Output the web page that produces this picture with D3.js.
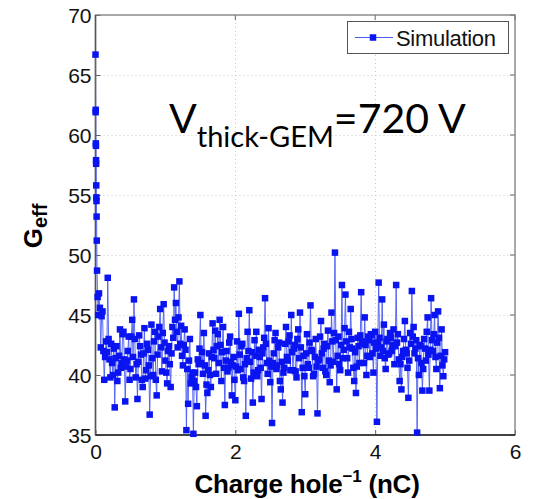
<!DOCTYPE html>
<html><head><meta charset="utf-8">
<script src="https://cdn.jsdelivr.net/npm/d3@7"></script>
<style>body{margin:0;background:#fff}svg{display:block}</style>
</head><body>
<script>
const charge = [0.000,0.002,0.003,0.005,0.006,0.008,0.009,0.011,0.012,0.014,0.016,0.018,0.022,0.030,0.038,
0.05,0.0625,0.075,0.0875,0.1,0.1125,0.125,0.1375,0.15,0.1625,0.175,0.1875,0.2,0.2125,0.225,0.2375,0.25,0.2625,0.275,0.2875,
0.3,0.3125,0.325,0.3375,0.35,0.3625,0.375,0.3875,0.4,0.4125,0.425,0.4375,0.45,0.4625,0.475,0.4875,0.5,0.5125,0.525,0.5375,
0.55,0.5625,0.575,0.5875,0.6,0.6125,0.625,0.6375,0.65,0.6625,0.675,0.6875,0.7,0.7125,0.725,0.7375,0.75,0.7625,0.775,0.7875,
0.8,0.8125,0.825,0.8375,0.85,0.8625,0.875,0.8875,0.9,0.9125,0.925,0.9375,0.95,0.9625,0.975,0.9875,1,1.0125,1.025,1.0375,
1.05,1.0625,1.075,1.0875,1.1,1.1125,1.125,1.1375,1.15,1.1625,1.175,1.1875,1.2,1.2125,1.225,1.2375,1.25,1.2625,1.275,1.2875,
1.3,1.3125,1.325,1.3375,1.35,1.3625,1.375,1.3875,1.4,1.4125,1.425,1.4375,1.45,1.4625,1.475,1.4875,1.5,1.5125,1.525,1.5375,
1.55,1.5625,1.575,1.5875,1.6,1.6125,1.625,1.6375,1.65,1.6625,1.675,1.6875,1.7,1.7125,1.725,1.7375,1.75,1.7625,1.775,1.7875,
1.8,1.8125,1.825,1.8375,1.85,1.8625,1.875,1.8875,1.9,1.9125,1.925,1.9375,1.95,1.9625,1.975,1.9875,2,2.0125,2.025,2.0375,
2.05,2.0625,2.075,2.0875,2.1,2.1125,2.125,2.1375,2.15,2.1625,2.175,2.1875,2.2,2.2125,2.225,2.2375,2.25,2.2625,2.275,2.2875,
2.3,2.3125,2.325,2.3375,2.35,2.3625,2.375,2.3875,2.4,2.4125,2.425,2.4375,2.45,2.4625,2.475,2.4875,2.5,2.5125,2.525,2.5375,
2.55,2.5625,2.575,2.5875,2.6,2.6125,2.625,2.6375,2.65,2.6625,2.675,2.6875,2.7,2.7125,2.725,2.7375,2.75,2.7625,2.775,2.7875,
2.8,2.8125,2.825,2.8375,2.85,2.8625,2.875,2.8875,2.9,2.9125,2.925,2.9375,2.95,2.9625,2.975,2.9875,3,3.0125,3.025,3.0375,
3.05,3.0625,3.075,3.0875,3.1,3.1125,3.125,3.1375,3.15,3.1625,3.175,3.1875,3.2,3.2125,3.225,3.2375,3.25,3.2625,3.275,3.2875,
3.3,3.3125,3.325,3.3375,3.35,3.3625,3.375,3.3875,3.4,3.4125,3.425,3.4375,3.45,3.4625,3.475,3.4875,3.5,3.5125,3.525,3.5375,
3.55,3.5625,3.575,3.5875,3.6,3.6125,3.625,3.6375,3.65,3.6625,3.675,3.6875,3.7,3.7125,3.725,3.7375,3.75,3.7625,3.775,3.7875,
3.8,3.8125,3.825,3.8375,3.85,3.8625,3.875,3.8875,3.9,3.9125,3.925,3.9375,3.95,3.9625,3.975,3.9875,4,4.0125,4.025,4.0375,
4.05,4.0625,4.075,4.0875,4.1,4.1125,4.125,4.1375,4.15,4.1625,4.175,4.1875,4.2,4.2125,4.225,4.2375,4.25,4.2625,4.275,4.2875,
4.3,4.3125,4.325,4.3375,4.35,4.3625,4.375,4.3875,4.4,4.4125,4.425,4.4375,4.45,4.4625,4.475,4.4875,4.5,4.5125,4.525,4.5375,
4.55,4.5625,4.575,4.5875,4.6,4.6125,4.625,4.6375,4.65,4.6625,4.675,4.6875,4.7,4.7125,4.725,4.7375,4.75,4.7625,4.775,4.7875,
4.8,4.8125,4.825,4.8375,4.85,4.8625,4.875,4.8875,4.9,4.9125,4.925,4.9375,4.95,4.9625,4.975,4.9875,5];

const gain = [66.7,61.9,62.1,59.3,59.1,57.9,57.6,55.8,54.8,54.5,53.2,51.2,48.7,46.5,45.0,
46.8,45.6,42.3,44.9,45.3,42.0,39.6,41.5,42.8,41.9,48.1,43.0,41.3,39.8,42.6,41.0,40.0,42.2,37.3,41.4,
42.4,39.5,40.2,41.6,43.8,40.6,41.0,43.4,43.6,41.3,37.8,40.7,41.2,42.0,43.2,39.6,40.5,43.2,44.6,41.5,
46.3,43.0,39.8,40.9,38.0,41.1,43.3,42.4,41.7,39.6,39.0,41.8,43.9,39.7,40.4,42.6,42.1,40.8,36.7,39.9,
44.2,41.4,40.0,42.8,43.6,39.6,38.3,41.7,43.2,44.0,45.5,42.3,40.3,43.5,45.9,42.7,41.2,40.2,39.3,42.0,
42.4,40.9,39.0,41.8,44.0,43.1,47.3,44.6,46.0,43.6,42.3,44.8,47.8,42.6,44.1,41.6,40.8,42.5,43.8,42.1,
35.4,40.5,37.6,41.2,43.0,39.3,39.8,40.2,35.1,39.5,40.2,39.0,37.4,41.3,40.9,42.2,45.0,41.0,41.9,40.1,
43.5,40.8,36.6,39.2,38.5,40.4,41.8,40.0,39.0,41.5,44.3,42.1,41.4,43.7,40.1,42.4,43.4,41.0,44.6,42.5,
39.5,41.9,44.0,40.6,37.5,41.2,42.0,40.3,40.6,42.7,43.2,41.1,38.3,40.8,41.5,39.6,37.9,40.7,42.8,40.4,
45.1,41.7,40.5,42.4,42.6,39.8,39.5,40.9,36.6,41.4,43.6,42.0,45.4,41.1,39.7,41.9,37.7,40.2,42.9,41.6,
43.6,39.9,40.4,42.1,41.5,40.6,38.0,41.8,42.3,43.1,46.4,42.6,41.0,40.1,43.9,41.2,39.4,40.7,36.0,41.0,
41.8,42.9,43.5,40.5,40.8,42.3,42.7,39.5,38.8,41.1,37.7,40.2,40.6,42.6,44.0,41.5,41.2,42.8,43.3,40.4,
45.0,41.9,40.4,42.2,42.5,40.3,39.8,43.0,43.8,41.4,45.2,42.3,36.9,40.6,41.6,39.9,38.4,41.8,43.4,40.9,
40.6,42.7,45.8,42.1,42.0,39.9,40.1,41.5,43.0,40.7,36.8,41.2,41.3,43.2,44.5,41.8,40.6,42.2,42.6,40.3,
40.0,42.4,43.7,41.2,39.4,40.8,45.2,42.8,41.1,43.5,50.2,42.9,38.8,41.6,43.2,40.9,40.4,42.5,47.5,41.4,
42.1,43.9,46.7,42.8,41.4,40.2,43.6,42.3,45.5,43.0,42.2,40.6,39.5,41.9,38.5,40.7,43.1,42.4,41.0,43.3,
46.9,42.6,42.8,41.0,44.8,42.5,40.0,41.6,43.2,42.9,41.5,43.4,43.3,41.8,40.2,42.7,43.6,42.2,36.1,42.6,
47.7,43.1,41.6,42.3,46.3,42.0,44.2,41.4,40.5,42.8,43.0,41.7,41.8,43.5,43.1,42.0,42.5,43.8,40.9,42.4,
47.5,42.7,43.4,41.3,39.5,40.9,38.8,41.5,42.0,43.0,44.5,42.1,41.8,40.6,38.1,41.2,43.5,42.6,47.0,43.2,
44.0,41.8,42.2,42.9,35.2,41.4,40.0,42.5,42.4,41.0,38.7,40.5,43.0,42.2,41.2,43.6,44.8,41.7,38.7,42.1,
46.4,42.9,42.0,43.4,45.0,41.5,40.5,42.7,45.3,43.1,38.9,41.6,43.8,40.8,39.9,41.3,41.9];

const xTicks = [0, 2, 4, 6];
const yTicks = [35, 40, 45, 50, 55, 60, 65, 70];
const seriesName = "Simulation";

const W = 535, H = 499;
const mLeft = 95.5, mRight = 515, mTop = 15, mBottom = 435;

const svg = d3.select("body").append("svg").attr("width", W).attr("height", H);
const x = d3.scaleLinear().domain([0, 6]).range([mLeft, mRight]);
const y = d3.scaleLinear().domain([35, 70]).range([mBottom, mTop]);

// grid
const grid = svg.append("g").attr("stroke", "#c8c8c8").attr("stroke-width", 1).attr("stroke-dasharray", "1,3");
grid.selectAll(".gx").data(xTicks.slice(1, -1)).enter().append("line")
  .attr("x1", d => Math.round(x(d)) + 0.5).attr("x2", d => Math.round(x(d)) + 0.5)
  .attr("y1", mTop).attr("y2", mBottom);
grid.selectAll(".gy").data(yTicks.slice(1, -1)).enter().append("line")
  .attr("y1", d => Math.round(y(d)) + 0.5).attr("y2", d => Math.round(y(d)) + 0.5)
  .attr("x1", mLeft).attr("x2", mRight);

// axes
const fontTick = "'Liberation Sans', Arial, sans-serif";
const xAxis = d3.axisBottom(x).tickValues(xTicks).tickSize(-5).tickPadding(9).tickFormat(d3.format("d"));
const yAxis = d3.axisLeft(y).tickValues(yTicks).tickSize(-5).tickPadding(4).tickFormat(d3.format("d"));
const gx = svg.append("g").attr("transform", `translate(0,${mBottom})`).call(xAxis);
const gy = svg.append("g").attr("transform", `translate(${mLeft},0)`).call(yAxis);
[gx, gy].forEach(g => {
  g.select(".domain").remove();
  g.selectAll(".tick line").attr("stroke", "#666");
  g.selectAll(".tick text").attr("font-family", fontTick).attr("font-size", 21).attr("fill", "#111");
});
gx.selectAll(".tick text").attr("dy", "0.71em");
gy.selectAll(".tick text").attr("dy", "0.36em");
// right & top ticks
svg.append("g").selectAll("line").data(yTicks).enter().append("line")
  .attr("x1", mRight).attr("x2", mRight - 5).attr("y1", d => y(d)).attr("y2", d => y(d)).attr("stroke", "#666");
svg.append("g").selectAll("line").data(xTicks).enter().append("line")
  .attr("y1", mTop).attr("y2", mTop + 5).attr("x1", d => x(d)).attr("x2", d => x(d)).attr("stroke", "#666");

// frame
svg.append("rect").attr("x", mLeft).attr("y", mTop).attr("width", mRight - mLeft).attr("height", mBottom - mTop)
  .attr("fill", "none").attr("stroke", "#7a7a7a").attr("stroke-width", 1.3);
svg.append("line").attr("x1", mLeft).attr("x2", mRight).attr("y1", mBottom).attr("y2", mBottom)
  .attr("stroke", "#222").attr("stroke-width", 1.5);
svg.append("line").attr("x1", mLeft).attr("x2", mLeft).attr("y1", mTop).attr("y2", mBottom)
  .attr("stroke", "#555").attr("stroke-width", 1.5);

// data
const n = Math.min(charge.length, gain.length);
const pts = d3.range(n).map(i => [charge[i], gain[i]]);
const line = d3.line().x(d => x(d[0])).y(d => y(d[1]));
svg.append("path").datum(pts).attr("d", line).attr("fill", "none")
  .attr("stroke", "#4a5af0").attr("stroke-width", 0.9);
const ms = 6.5;
svg.append("g").selectAll("rect").data(pts).enter().append("rect")
  .attr("x", d => x(d[0]) - ms / 2).attr("y", d => y(d[1]) - ms / 2)
  .attr("width", ms).attr("height", ms).attr("fill", "#0a14f0");

// legend
const lg = svg.append("g");
lg.append("rect").attr("x", 347.5).attr("y", 21.5).attr("width", 161).attr("height", 32)
  .attr("fill", "#fff").attr("stroke", "#555").attr("stroke-width", 1);
lg.append("line").attr("x1", 355).attr("x2", 393).attr("y1", 37.5).attr("y2", 37.5)
  .attr("stroke", "#4a5af0").attr("stroke-width", 1);
lg.append("rect").attr("x", 373 - ms / 2).attr("y", 37.5 - ms / 2).attr("width", ms).attr("height", ms).attr("fill", "#0a14f0");
lg.append("text").attr("x", 396).attr("y", 46).attr("font-family", fontTick).attr("font-size", 22)
  .attr("letter-spacing", -0.3).attr("fill", "#111").text(seriesName);

// annotation
const ann = svg.append("text").attr("x", 169).attr("y", 133).attr("font-family", "Lato, 'Open Sans', sans-serif")
  .attr("font-size", 41).attr("fill", "#000");
ann.append("tspan").text("V");
ann.append("tspan").attr("font-size", 29).attr("dy", 14).text("thick-GEM");
ann.append("tspan").attr("dy", -14).text("=720 V");

// axis titles
const xt = svg.append("text").attr("x", 307).attr("y", 493).attr("text-anchor", "middle")
  .attr("font-family", fontTick).attr("font-weight", "bold").attr("font-size", 26)
  .attr("letter-spacing", -0.2).attr("fill", "#000");
xt.append("tspan").text("Charge hole");
xt.append("tspan").attr("font-size", 17).attr("dy", -11).text("−1");
xt.append("tspan").attr("dy", 11).text(" (nC)");

const yt = svg.append("text").attr("transform", "translate(42,226) rotate(-90)").attr("text-anchor", "middle")
  .attr("font-family", fontTick).attr("font-weight", "bold").attr("font-size", 26).attr("fill", "#000");
yt.append("tspan").text("G");
yt.append("tspan").attr("font-size", 20).attr("dy", 5).text("eff");
</script>
</body></html>
